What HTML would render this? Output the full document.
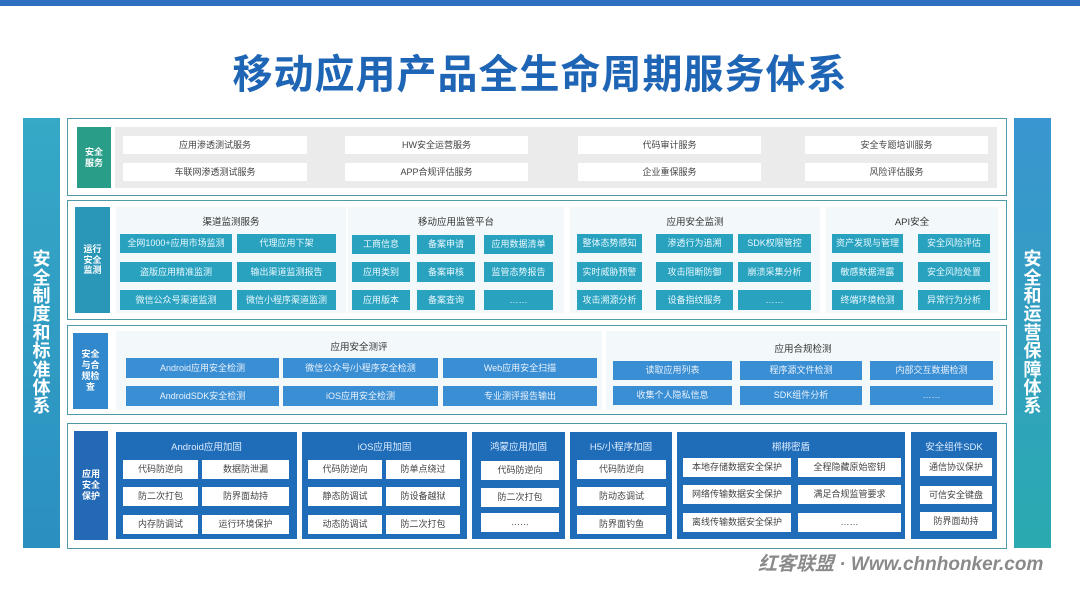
<!DOCTYPE html>
<html><head><meta charset="utf-8"><style>
*{margin:0;padding:0;box-sizing:border-box}
body{width:1080px;height:604px;background:#fff;position:relative;overflow:hidden;font-family:"Liberation Sans","Noto Sans CJK SC",sans-serif}
.b{position:absolute;display:flex;align-items:center;justify-content:center;text-align:center;font-size:9px;line-height:1.15}
.w{background:#fff;color:#444}
.t{background:#29a2c0;color:#e8f8fc}
.u{background:#3a8ed4;color:#e8f2fc}
.g{background:#f3f8fb}
.f{position:absolute;border:1.5px solid #4f9aa8;background:#fff}
.h{position:absolute;font-size:9.5px;color:#333;text-align:center}
.L{position:absolute;color:#fff;font-size:9px;font-weight:bold;display:flex;align-items:center;justify-content:center;text-align:center;line-height:1.2}
.d{position:absolute;background:#1f6cb8}
.dh{position:absolute;color:#dfeeff;font-size:9.5px;text-align:center}
</style></head><body>
<div style="position:absolute;left:0;top:0;width:1080px;height:6px;background:#2f6fbf"></div>
<div style="position:absolute;left:0;top:42px;width:1080px;text-align:center;font-size:40px;font-weight:bold;color:#1f65b5;letter-spacing:1px">移动应用产品全生命周期服务体系</div>

<div class="L" style="left:23px;top:118px;width:37px;height:430px;background:linear-gradient(#35a9c6,#2b8fc0);font-size:18px;line-height:1.02;padding:0 9px">安全制度和标准体系</div>
<div class="L" style="left:1014px;top:118px;width:37px;height:430px;background:linear-gradient(#3a95d0,#2aaab0);font-size:18px;line-height:1.02;padding:0 9px">安全和运营保障体系</div>

<!-- Row 1 -->
<div class="f" style="left:67px;top:118px;width:940px;height:78px"></div>
<div class="L" style="left:77px;top:127px;width:34px;height:61px;background:#2a9d88">安全<br>服务</div>
<div class="b" style="left:115px;top:127px;width:882px;height:61px;background:#ebebeb"></div>
<div class="b w" style="left:123px;top:136px;width:184px;height:18px">应用渗透测试服务</div>
<div class="b w" style="left:123px;top:163px;width:184px;height:18px">车联网渗透测试服务</div>
<div class="b w" style="left:345px;top:136px;width:183px;height:18px">HW安全运营服务</div>
<div class="b w" style="left:345px;top:163px;width:183px;height:18px">APP合规评估服务</div>
<div class="b w" style="left:578px;top:136px;width:183px;height:18px">代码审计服务</div>
<div class="b w" style="left:578px;top:163px;width:183px;height:18px">企业重保服务</div>
<div class="b w" style="left:805px;top:136px;width:183px;height:18px">安全专题培训服务</div>
<div class="b w" style="left:805px;top:163px;width:183px;height:18px">风险评估服务</div>

<!-- Row 2 -->
<div class="f" style="left:67px;top:200px;width:940px;height:120px"></div>
<div class="L" style="left:75px;top:207px;width:35px;height:106px;background:#2a96b8">运行<br>安全<br>监测</div>
<div class="b g" style="left:116px;top:207px;width:230px;height:106px"></div>
<div class="b g" style="left:348px;top:207px;width:216px;height:106px"></div>
<div class="b g" style="left:570px;top:207px;width:250px;height:106px"></div>
<div class="b g" style="left:826px;top:207px;width:172px;height:106px"></div>
<div class="h" style="left:116px;top:214px;width:230px">渠道监测服务</div>
<div class="h" style="left:348px;top:214px;width:216px">移动应用监管平台</div>
<div class="h" style="left:570px;top:214px;width:250px">应用安全监测</div>
<div class="h" style="left:826px;top:214px;width:172px">API安全</div>
<div class="b t" style="left:120px;top:234px;width:112px;height:19px">全网1000+应用市场监测</div>
<div class="b t" style="left:237px;top:234px;width:99px;height:19px">代理应用下架</div>
<div class="b t" style="left:120px;top:262px;width:112px;height:20px">盗版应用精准监测</div>
<div class="b t" style="left:237px;top:262px;width:99px;height:20px">输出渠道监测报告</div>
<div class="b t" style="left:120px;top:290px;width:112px;height:20px">微信公众号渠道监测</div>
<div class="b t" style="left:237px;top:290px;width:99px;height:20px">微信小程序渠道监测</div>
<div class="b t" style="left:352px;top:235px;width:58px;height:19px">工商信息</div>
<div class="b t" style="left:417px;top:235px;width:58px;height:19px">备案申请</div>
<div class="b t" style="left:484px;top:235px;width:69px;height:19px">应用数据清单</div>
<div class="b t" style="left:352px;top:262px;width:58px;height:20px">应用类别</div>
<div class="b t" style="left:417px;top:262px;width:58px;height:20px">备案审核</div>
<div class="b t" style="left:484px;top:262px;width:69px;height:20px">监管态势报告</div>
<div class="b t" style="left:352px;top:290px;width:58px;height:20px">应用版本</div>
<div class="b t" style="left:417px;top:290px;width:58px;height:20px">备案查询</div>
<div class="b t" style="left:484px;top:290px;width:69px;height:20px">……</div>
<div class="b t" style="left:577px;top:234px;width:65px;height:19px">整体态势感知</div>
<div class="b t" style="left:656px;top:234px;width:77px;height:19px">渗透行为追溯</div>
<div class="b t" style="left:738px;top:234px;width:73px;height:19px">SDK权限管控</div>
<div class="b t" style="left:577px;top:262px;width:65px;height:20px">实时威胁预警</div>
<div class="b t" style="left:656px;top:262px;width:77px;height:20px">攻击阻断防御</div>
<div class="b t" style="left:738px;top:262px;width:73px;height:20px">崩溃采集分析</div>
<div class="b t" style="left:577px;top:290px;width:65px;height:20px">攻击溯源分析</div>
<div class="b t" style="left:656px;top:290px;width:77px;height:20px">设备指纹服务</div>
<div class="b t" style="left:738px;top:290px;width:73px;height:20px">……</div>
<div class="b t" style="left:832px;top:234px;width:71px;height:19px">资产发现与管理</div>
<div class="b t" style="left:918px;top:234px;width:72px;height:19px">安全风险评估</div>
<div class="b t" style="left:832px;top:262px;width:71px;height:20px">敏感数据泄露</div>
<div class="b t" style="left:918px;top:262px;width:72px;height:20px">安全风险处置</div>
<div class="b t" style="left:832px;top:290px;width:71px;height:20px">终端环境检测</div>
<div class="b t" style="left:918px;top:290px;width:72px;height:20px">异常行为分析</div>

<!-- Row 3 -->
<div class="f" style="left:67px;top:325px;width:940px;height:90px"></div>
<div class="L" style="left:73px;top:333px;width:35px;height:76px;background:#3288cc">安全<br>与合<br>规检<br>查</div>
<div class="b g" style="left:116px;top:331px;width:486px;height:79px"></div>
<div class="b g" style="left:606px;top:331px;width:394px;height:79px"></div>
<div class="h" style="left:116px;top:339px;width:486px">应用安全测评</div>
<div class="h" style="left:606px;top:341px;width:394px">应用合规检测</div>
<div class="b u" style="left:126px;top:358px;width:153px;height:20px">Android应用安全检测</div>
<div class="b u" style="left:283px;top:358px;width:155px;height:20px">微信公众号/小程序安全检测</div>
<div class="b u" style="left:443px;top:358px;width:154px;height:20px">Web应用安全扫描</div>
<div class="b u" style="left:126px;top:386px;width:153px;height:20px">AndroidSDK安全检测</div>
<div class="b u" style="left:283px;top:386px;width:155px;height:20px">iOS应用安全检测</div>
<div class="b u" style="left:443px;top:386px;width:154px;height:20px">专业测评报告输出</div>
<div class="b u" style="left:613px;top:361px;width:119px;height:19px">读取应用列表</div>
<div class="b u" style="left:740px;top:361px;width:122px;height:19px">程序源文件检测</div>
<div class="b u" style="left:870px;top:361px;width:123px;height:19px">内部交互数据检测</div>
<div class="b u" style="left:613px;top:386px;width:119px;height:19px">收集个人隐私信息</div>
<div class="b u" style="left:740px;top:386px;width:122px;height:19px">SDK组件分析</div>
<div class="b u" style="left:870px;top:386px;width:123px;height:19px">……</div>

<!-- Row 4 -->
<div class="f" style="left:67px;top:423px;width:940px;height:126px"></div>
<div class="L" style="left:74px;top:431px;width:34px;height:109px;background:#2369b5">应用<br>安全<br>保护</div>
<div class="d" style="left:116px;top:432px;width:181px;height:107px"></div>
<div class="d" style="left:302px;top:432px;width:165px;height:107px"></div>
<div class="d" style="left:472px;top:432px;width:93px;height:107px"></div>
<div class="d" style="left:570px;top:432px;width:102px;height:107px"></div>
<div class="d" style="left:677px;top:432px;width:228px;height:107px"></div>
<div class="d" style="left:911px;top:432px;width:86px;height:107px"></div>
<div class="dh" style="left:116px;top:439px;width:181px">Android应用加固</div>
<div class="dh" style="left:302px;top:439px;width:165px">iOS应用加固</div>
<div class="dh" style="left:472px;top:439px;width:93px">鸿蒙应用加固</div>
<div class="dh" style="left:570px;top:439px;width:102px">H5/小程序加固</div>
<div class="dh" style="left:677px;top:439px;width:228px">梆梆密盾</div>
<div class="dh" style="left:911px;top:439px;width:86px">安全组件SDK</div>
<div class="b w" style="left:123px;top:460px;width:75px;height:19px">代码防逆向</div>
<div class="b w" style="left:202px;top:460px;width:87px;height:19px">数据防泄漏</div>
<div class="b w" style="left:123px;top:487px;width:75px;height:19px">防二次打包</div>
<div class="b w" style="left:202px;top:487px;width:87px;height:19px">防界面劫持</div>
<div class="b w" style="left:123px;top:515px;width:75px;height:19px">内存防调试</div>
<div class="b w" style="left:202px;top:515px;width:87px;height:19px">运行环境保护</div>
<div class="b w" style="left:308px;top:460px;width:74px;height:19px">代码防逆向</div>
<div class="b w" style="left:386px;top:460px;width:74px;height:19px">防单点绕过</div>
<div class="b w" style="left:308px;top:487px;width:74px;height:19px">静态防调试</div>
<div class="b w" style="left:386px;top:487px;width:74px;height:19px">防设备越狱</div>
<div class="b w" style="left:308px;top:515px;width:74px;height:19px">动态防调试</div>
<div class="b w" style="left:386px;top:515px;width:74px;height:19px">防二次打包</div>
<div class="b w" style="left:481px;top:461px;width:78px;height:19px">代码防逆向</div>
<div class="b w" style="left:481px;top:488px;width:78px;height:19px">防二次打包</div>
<div class="b w" style="left:481px;top:513px;width:78px;height:19px">……</div>
<div class="b w" style="left:577px;top:460px;width:89px;height:19px">代码防逆向</div>
<div class="b w" style="left:577px;top:487px;width:89px;height:19px">防动态调试</div>
<div class="b w" style="left:577px;top:515px;width:89px;height:19px">防界面钓鱼</div>
<div class="b w" style="left:683px;top:458px;width:108px;height:19px">本地存储数据安全保护</div>
<div class="b w" style="left:798px;top:458px;width:103px;height:19px">全程隐藏原始密钥</div>
<div class="b w" style="left:683px;top:485px;width:108px;height:19px">网络传输数据安全保护</div>
<div class="b w" style="left:798px;top:485px;width:103px;height:19px">满足合规监管要求</div>
<div class="b w" style="left:683px;top:513px;width:108px;height:19px">离线传输数据安全保护</div>
<div class="b w" style="left:798px;top:513px;width:103px;height:19px">……</div>
<div class="b w" style="left:920px;top:458px;width:72px;height:18px">通信协议保护</div>
<div class="b w" style="left:920px;top:486px;width:72px;height:18px">可信安全键盘</div>
<div class="b w" style="left:920px;top:512px;width:72px;height:19px">防界面劫持</div>

<div style="position:absolute;left:758px;top:549px;font-size:19px;font-weight:bold;color:#8a8a8a;font-style:italic;white-space:nowrap">红客联盟 · Www.chnhonker.com</div>
</body></html>
